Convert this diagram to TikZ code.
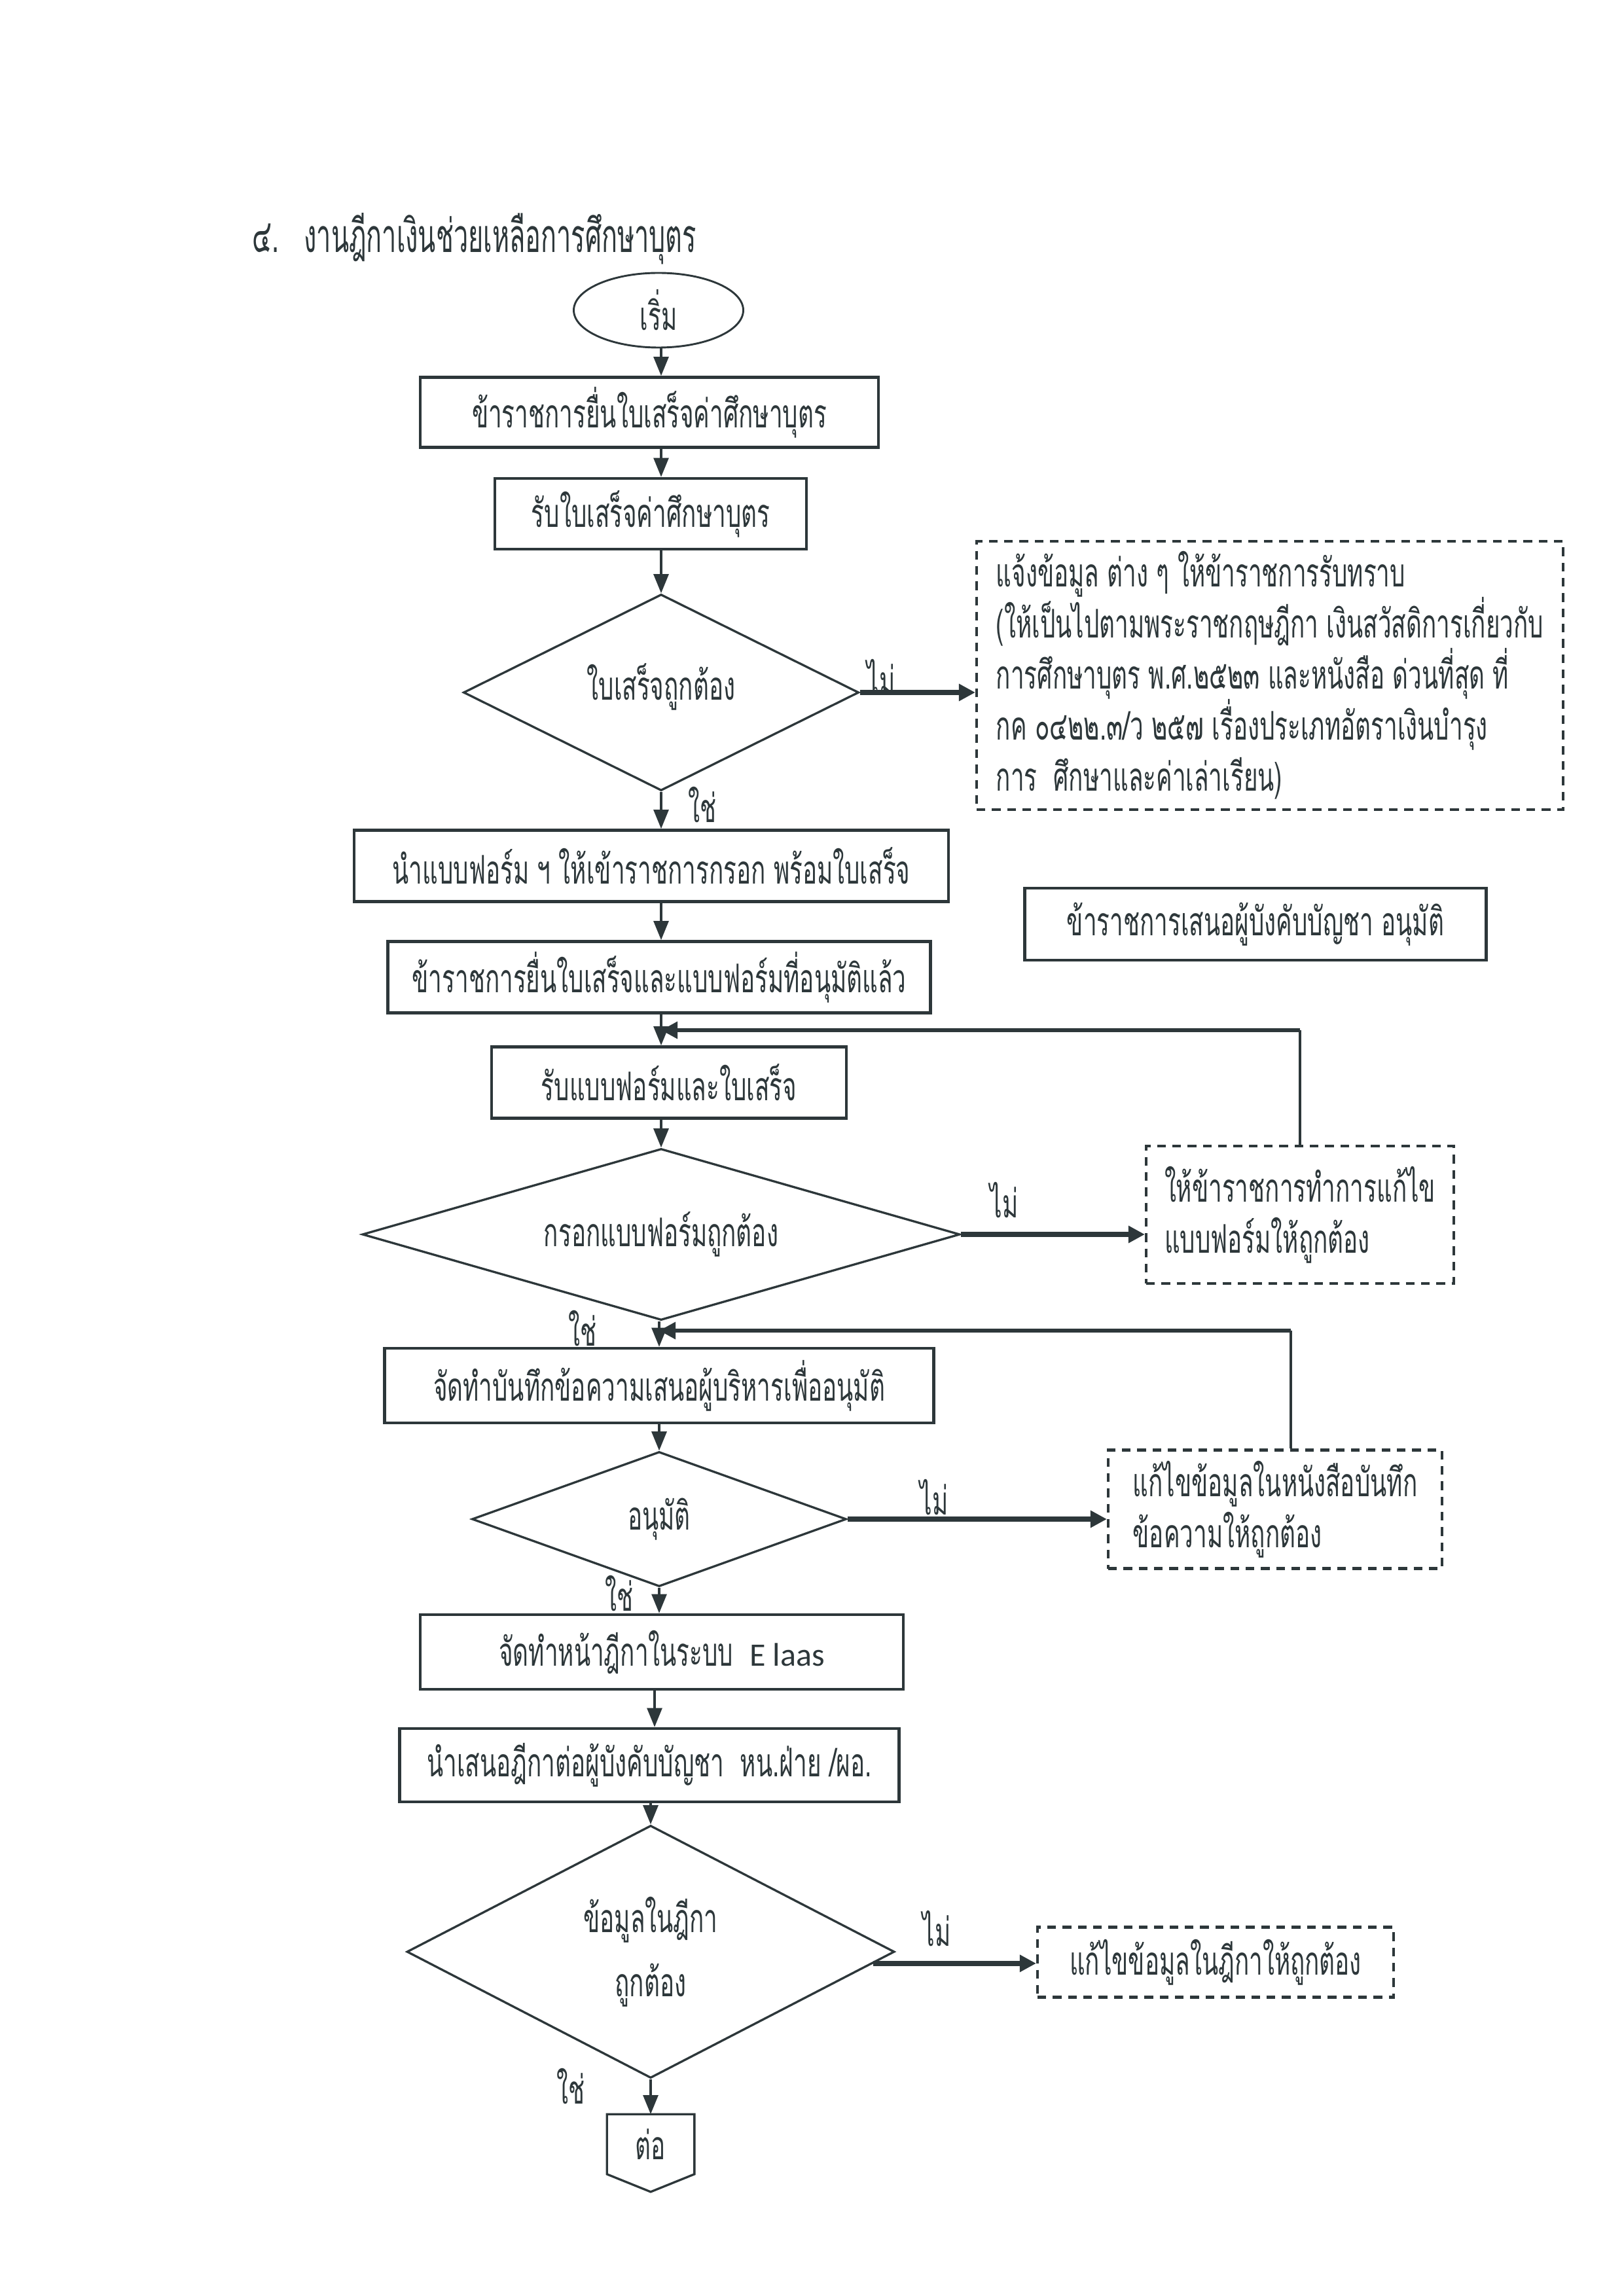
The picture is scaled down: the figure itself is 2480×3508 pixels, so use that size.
\documentclass[tikz,border=0pt]{standalone}
\usepackage{fontspec}
\newfontfamily\thai[Script=Thai,FakeStretch=0.61]{Loma}
\newfontfamily\thaititle[Script=Thai,FakeStretch=0.56]{Loma}
\newfontfamily\carl{Carlito}
\usetikzlibrary{shapes.geometric,arrows.meta,calc}
\definecolor{ink}{RGB}{45,55,58}
\def\u{0.24pt}
\def\thaifs{\thai\fontsize{14.5}{18.7}\selectfont}
\tikzset{
  every node/.style={font=\thaifs, text=ink},
  box/.style={draw=ink, line width=1.1pt, rectangle, inner sep=0pt},
  dbox/.style={draw=ink, line width=1pt, dash pattern=on 3.2pt off 2.4pt, rectangle, inner sep=0pt, align=left},
  dia/.style={draw=ink, line width=0.8pt, diamond, inner sep=0pt},
  arr/.style={draw=ink, line width=0.8pt, -{Triangle[length=7pt,width=5.5pt]}},
  noarr/.style={draw=ink, line width=1.8pt, -{Triangle[length=6pt,width=6pt]}},
  fbthin/.style={draw=ink, line width=0.8pt},
  fbthick/.style={draw=ink, line width=1.6pt, -{Triangle[length=6pt,width=6pt]}},
}
\begin{document}
\begin{tikzpicture}[x=0.24pt,y=-0.24pt]
\useasboundingbox[fill=white] (0,0) rectangle (2480,3508);
% trunk x references
\coordinate (t1) at (1010,0);
\coordinate (t2) at (1007,0);
\coordinate (t3) at (1000,0);
\coordinate (t4) at (994,0);

\node[anchor=west, inner sep=0pt, font=\thaititle\fontsize{17}{20}\selectfont] (title) at (385,365) {๔.\hspace{9pt}งานฎีกาเงินช่วยเหลือการศึกษาบุตร};

\node[draw=ink, line width=0.7pt, ellipse, minimum width=259*\u, minimum height=114*\u, inner sep=0pt] (start) at (1006,474) {เริ่ม};

\node[box, minimum width=700*\u, minimum height=107*\u] (b1) at (992,630) {ข้าราชการยื่นใบเสร็จค่าศึกษาบุตร};
\node[box, minimum width=476*\u, minimum height=108*\u] (b2) at (994,785) {รับใบเสร็จค่าศึกษาบุตร};
\node[dia, aspect=2.0, minimum width=604*\u, minimum height=300*\u] (d1) at (1010,1058) {\raisebox{8pt}{ใบเสร็จถูกต้อง}};
\node[dbox, minimum width=896*\u, minimum height=410*\u] (info) at (1940,1032)
 {แจ้งข้อมูล ต่าง ๆ ให้ข้าราชการรับทราบ\\
  (ให้เป็นไปตามพระราชกฤษฎีกา เงินสวัสดิการเกี่ยวกับ\\
  การศึกษาบุตร พ.ศ.๒๕๒๓ และหนังสือ ด่วนที่สุด ที่\\
  กค ๐๔๒๒.๓/ว ๒๕๗ เรื่องประเภทอัตราเงินบำรุง\\
  การ\ \ ศึกษาและค่าเล่าเรียน)};

\node[box, minimum width=908*\u, minimum height=109*\u] (b3) at (995,1323) {นำแบบฟอร์ม ฯ ให้เข้าราชการกรอก พร้อมใบเสร็จ};
\node[box, minimum width=705*\u, minimum height=110*\u] (side) at (1918,1412) {ข้าราชการเสนอผู้บังคับบัญชา อนุมัติ};
\node[box, minimum width=829*\u, minimum height=109*\u] (b4) at (1007,1493) {ข้าราชการยื่นใบเสร็จและแบบฟอร์มที่อนุมัติแล้ว};
\node[box, minimum width=542*\u, minimum height=109*\u] (b5) at (1022,1654) {รับแบบฟอร์มและใบเสร็จ};
\node[dia, aspect=3.48, minimum width=913*\u, minimum height=262*\u] (d2) at (1010,1886) {กรอกแบบฟอร์มถูกต้อง};
\node[dbox, minimum width=470*\u, minimum height=210*\u] (fix2) at (1986,1856)
 {ให้ข้าราชการทำการแก้ไข\\ แบบฟอร์มให้ถูกต้อง};

\node[box, minimum width=839*\u, minimum height=114*\u] (b6) at (1007,2117) {จัดทำบันทึกข้อความเสนอผู้บริหารเพื่ออนุมัติ};
\node[dia, aspect=2.78, minimum width=572*\u, minimum height=206*\u] (d3) at (1007,2321) {อนุมัติ};
\node[dbox, minimum width=510*\u, minimum height=181*\u] (fix3) at (1948,2306)
 {แก้ไขข้อมูลในหนังสือบันทึก\\ ข้อความให้ถูกต้อง};

\node[box, minimum width=738*\u, minimum height=114*\u] (b7) at (1011,2524) {จัดทำหน้าฎีกาในระบบ\ \ {\carl\fontsize{12}{15}\selectfont E laas}};
\node[box, minimum width=763*\u, minimum height=112*\u] (b8) at (992,2697) {นำเสนอฎีกาต่อผู้บังคับบัญชา\ \ หน.ฝ่าย /ผอ.};
\node[dia, aspect=1.93, minimum width=745*\u, minimum height=386*\u, align=center, font=\thai\fontsize{14.5}{23.5}\selectfont] (d4) at (994,2982) {ข้อมูลในฎีกา\\ ถูกต้อง};
\node[dbox, minimum width=544*\u, minimum height=107*\u] (fix4) at (1857,2998) {แก้ไขข้อมูลในฎีกาให้ถูกต้อง};

\node[minimum width=132*\u, minimum height=90*\u, inner sep=0pt] (cont) at (994,3276) {ต่อ};
\draw[draw=ink, line width=0.8pt] (cont.north west) -- (cont.south west) -- ($(cont.south)+(0,27)$) -- (cont.south east) -- (cont.north east) -- cycle;

% labels
\node (no1) at (1346,1035) {ไม่};
\node (yes1) at (1073,1230) {ใช่};
\node (no2) at (1534,1834) {ไม่};
\node (yes2) at (890,2030) {ใช่};
\node (no3) at (1427,2288) {ไม่};
\node (yes3) at (946,2435) {ใช่};
\node (no4) at (1431,2947) {ไม่};
\node (yes4) at (872,3187) {ใช่};

% main trunk
\draw[arr] (start.south -| t1) -- (b1.north -| t1);
\draw[arr] (b1.south -| t1) -- (b2.north -| t1);
\draw[arr] (b2.south -| t1) -- (d1.north);
\draw[arr] (d1.south) -- (b3.north -| t1);
\draw[arr] (b3.south -| t1) -- (b4.north -| t1);
\draw[arr] (b4.south -| t1) -- (b5.north -| t1);
\draw[arr] (b5.south -| t1) -- (d2.north);
\draw[arr] (d2.south -| t2) -- (b6.north -| t2);
\draw[arr] (b6.south -| t2) -- (d3.north);
\draw[arr] (d3.south) -- (b7.north -| t2);
\draw[arr] (b7.south -| t3) -- (b8.north -| t3);
\draw[arr] (b8.south -| t4) -- (d4.north);
\draw[arr] (d4.south) -- (cont.north);

% no branches
\draw[noarr] (d1.east) -- (d1.east -| info.west);
\draw[noarr] (d2.east) -- (d2.east -| fix2.west);
\draw[noarr] (d3.east) -- (d3.east -| fix3.west);
\draw[noarr] (d4.-3) -- (d4.-3 -| fix4.west);

% feedback loops
\coordinate (fb1) at (1986,1574);
\draw[fbthin] (fix2.north) -- (fb1);
\draw[fbthick] (fb1) -- (fb1 -| t1);
\coordinate (fb2) at (1972,2033);
\draw[fbthin] (fb2 |- fix3.north) -- (fb2);
\draw[fbthick] (fb2) -- (fb2 -| t2);
\end{tikzpicture}
\end{document}
